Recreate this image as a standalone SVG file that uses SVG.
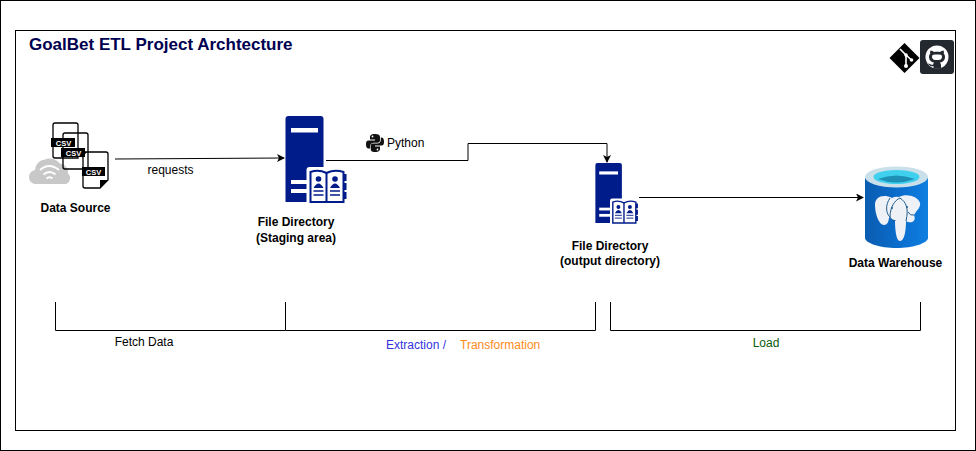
<svg xmlns="http://www.w3.org/2000/svg" width="976" height="451" viewBox="0 0 976 451">
<style>
text{font-family:"Liberation Sans",Arial,sans-serif;font-size:12px;fill:#000}
.b{font-weight:bold}
.c{text-anchor:middle}
.line{fill:none;stroke:#000;stroke-width:1}
.doc{fill:none;stroke:#000;stroke-width:1.300}
.tag{font-size:7.500px;font-weight:bold;fill:#fff;text-anchor:middle}
</style>
<defs>
<marker id="arrow" markerWidth="9" markerHeight="9" refX="7" refY="4" orient="auto" markerUnits="userSpaceOnUse"><path d="M0 0L8 4L0 8L2 4Z" fill="#000"/></marker>
<symbol id="server" viewBox="0 0 62 86" overflow="visible">
<path d="M3 0H35Q38 0 38 3V86H0V3Q0 0 3 0Z" fill="#001b8a"/>
<rect x="5.500" y="12" width="27" height="4.500" fill="#fff"/>
<rect x="5.500" y="64" width="16" height="4" fill="#fff"/>
<rect x="5.500" y="73" width="16" height="4" fill="#fff"/>
<path d="M24 51H62V86H21V54Q21 51 24 51Z" fill="#fff"/>
<path d="M25 56Q33 53 41 57Q49 53 58 56V86H25Z" fill="#fff" stroke="#001b8a" stroke-width="2"/>
<path d="M41 57V86" stroke="#001b8a" stroke-width="2"/>
<path d="M58 58h3v7h-3zM58 67h3v7h-3zM58 76h3v7h-3z" fill="#001b8a"/>
<circle cx="33" cy="63" r="2.800" fill="#001b8a"/><path d="M28 72Q33 63 38 72Z" fill="#001b8a"/>
<circle cx="49.500" cy="63" r="2.800" fill="#001b8a"/><path d="M44.500 72Q49.500 63 54.500 72Z" fill="#001b8a"/>
<path d="M28 75H38M28 79H38M44.500 75H54.500M44.500 79H54.500" stroke="#001b8a" stroke-width="1.300"/>
</symbol>
<linearGradient id="cyl" x1="0" x2="1" y1="0" y2="0"><stop offset="0" stop-color="#0a5cb0"/><stop offset=".6" stop-color="#0b6fd0"/><stop offset="1" stop-color="#0f7fe0"/></linearGradient>
</defs>
<rect x="0.500" y="0.500" width="975" height="450" fill="#fff" stroke="#000"/>
<rect x="15.500" y="30.500" width="940" height="400" fill="#fff" stroke="#000"/>
<text x="29" y="50" class="b" style="font-size:17px;fill:#000050">GoalBet ETL Project Archtecture</text>

<g id="connectors">
<path class="line" d="M115 159L284 158" marker-end="url(#arrow)"/>
<path class="line" d="M326 160.500L468 160.500V143.500H607V162" marker-end="url(#arrow)"/>
<path class="line" d="M639 197.500H863" marker-end="url(#arrow)"/>
<path class="line" d="M55.500 302V330.500H285.500M285.500 302V330.500H595.500V302"/>
<path class="line" d="M610.500 302V330.500H920.500V302"/>
</g>
<text x="170.500" y="174" class="c">requests</text>
<text x="144" y="346" class="c">Fetch Data</text>
<text x="386" y="349" style="fill:#3333dd">Extraction /</text>
<text x="460" y="349" style="fill:#ff8c1a">Transformation</text>
<text x="766" y="347" class="c" style="fill:#0a5c0a">Load</text>

<g id="python">
<path id="snake-top" d="M375 134C371 134 370 135.500 370 137V139.500H375V140.500H368.500C366.500 140.500 366 142 366 144.500C366 147 367 148.500 368.500 148.500H370.200V146C370.200 144.300 371.500 142.800 373.500 142.800H377.500C379 142.800 380 141.800 380 140.300V137C380 135.300 378.500 134 375 134Z" fill="#111"/>
<path id="snake-bottom" d="M375 152C379 152 380 150.500 380 149V146.500H375V145.500H381.500C383.500 145.500 384 144 384 141.500C384 139 383 137.500 381.500 137.500H380.800V140C380.800 141.700 379.500 143.500 377.500 143.500H372.500C371 143.500 370.800 144.500 370.800 146V149C370.800 150.700 371.500 152 375 152Z" fill="#111"/>
<circle cx="372.500" cy="136.500" r="0.900" fill="#fff"/><circle cx="377.500" cy="149.500" r="0.900" fill="#fff"/>
<text x="387" y="147">Python</text>
</g>

<g id="data-source">
<path d="M37 184a7 7 0 0 1 -2-14a11 11 0 0 1 10-10.500a13 13 0 0 1 15 4a9 9 0 0 1 8 10a6 6 0 0 1 -4 10.500Z" fill="#c8c8c8"/>
<path d="M40 170Q49 162 59 170M43.500 174.500Q49.500 169.500 55.500 174.500" fill="none" stroke="#fff" stroke-width="2"/>
<path d="M46.500 178.500Q49.500 176 52.500 178.500" fill="none" stroke="#fff" stroke-width="2"/>
<path class="doc" d="M55 123H76Q78 123 78 125V158H55Q53 158 53 156V125Q53 123 55 123Z"/>
<path class="doc" d="M65 133H86Q88 133 88 135V169H65Q63 169 63 167V135Q63 133 65 133Z"/>
<path class="doc" d="M85 152H106Q108 152 108 154V180L100 188H85Q83 188 83 186V154Q83 152 85 152Z"/>
<rect x="51" y="138" width="24" height="9" fill="#000"/>
<rect x="61" y="148" width="24" height="9" fill="#000"/>
<rect x="82" y="167" width="23" height="9" fill="#000"/>
<path d="M100 188V180H108Z" fill="#000"/>
<path d="M72 158L78 152H72Z" fill="#000"/>
<path d="M82 152H87L82 158Z" fill="#000"/>
<text x="63.500" y="145.500" class="tag">CSV</text>
<text x="73.500" y="155.500" class="tag">CSV</text>
<text x="93.500" y="174.500" class="tag">CSV</text>
<text x="75.500" y="212" class="c b">Data Source</text>
</g>

<g id="staging">
<use href="#server" x="285.500" y="116" width="62" height="86"/>
<text x="296" y="226" class="c b">File Directory</text>
<text x="296" y="242" class="c b">(Staging area)</text>
</g>

<g id="output-dir">
<use href="#server" x="595" y="163" width="44" height="60"/>
<text x="610" y="250" class="c b">File Directory</text>
<text x="610" y="265" class="c b">(output directory)</text>
</g>

<g id="warehouse">
<path d="M865 178V238C865 243 880 248 896.500 248S928 243 928 238V178Z" fill="url(#cyl)"/>
<ellipse cx="896.500" cy="177" rx="31.500" ry="10.500" fill="#c9dfe9"/>
<ellipse cx="896.500" cy="177" rx="23" ry="7" fill="#3fd0ee"/>
<path d="M878 179Q896 172 915 179Q896 186 878 179Z" fill="#1e8fb5"/>
<path d="M892 198C884 194 875 196 875 205C875 214 879 225 884 225C888 225 889 220 889 217C891 219 893 220 895 220C895 228 896 241 900 241C905 241 906 228 906 221C910 224 917 222 914 215C917 210 921 207 920 203C918 196 906 193 899 197Q895 196 892 198Z" fill="#eef2f7"/>
<path d="M890 198C885 205 886 214 890 217C890 207 895 200 900 198C906 202 909 208 906 221" fill="none" stroke="#1f5c8f" stroke-width="1"/>
<path d="M890 217C893 222 895 222 895 220M914 215Q910 216 908 212" fill="none" stroke="#1f5c8f" stroke-width="1"/>
<circle cx="892" cy="208" r="1" fill="#1f5c8f"/>
<circle cx="907" cy="207" r="1" fill="#1f5c8f"/>
<text x="895.500" y="267" class="c b">Data Warehouse</text>
</g>

<g id="git-icon">
<path d="M904.500 43L919.500 58L904.500 73L889.500 58Z" fill="#000"/>
<path d="M900 49L906 55V66M906 55L911.500 60" fill="none" stroke="#fff" stroke-width="1.600"/>
<circle cx="906" cy="55" r="1.800" fill="#fff"/><circle cx="906" cy="66" r="2" fill="#fff"/><circle cx="911.500" cy="60" r="1.800" fill="#fff"/>
</g>
<g id="github-icon">
<rect x="920" y="40" width="34" height="34" rx="3" fill="#24292f"/>
<circle cx="937" cy="57" r="11.500" fill="#fff"/>
<path d="M933.500 68.800V66C930 66.800 929 64.800 928 63.500C930 63.800 931 65 933 64.800C933.200 63.800 933.600 63 934 62.500C931 62 929 60.400 929 57C929 55.600 929.500 54.500 930.300 53.600C930 52.800 930 51.500 930.500 50.500C932 50.500 933.200 51.400 934 52C936 51.500 938 51.500 940 52C940.800 51.400 942 50.500 943.500 50.500C944 51.500 944 52.800 943.700 53.600C944.500 54.500 945 55.600 945 57C945 60.400 943 62 940 62.500C940.600 63.200 941 64 941 65V68.800Z" fill="#24292f"/>
<path d="M932 56.500C932 54.500 934 54.500 937 54.500S942 54.500 942 56.500C942 59.500 940 60 937 60S932 59.500 932 56.500Z" fill="#fff"/>
</g>
</svg>
